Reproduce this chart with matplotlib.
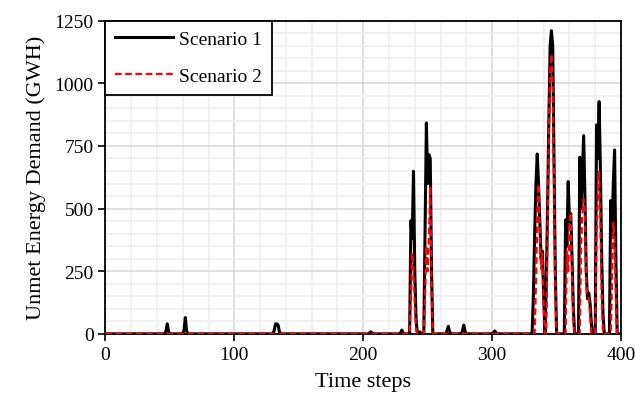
import matplotlib
matplotlib.use('Agg')
import matplotlib.pyplot as plt
import numpy as np
from matplotlib.ticker import MultipleLocator

plt.rc('font', family='Liberation Serif')

# time steps 0..400, zero unless listed
n_steps = 401

s1_t = [47, 48, 49, 61, 62, 63, 131, 132, 133, 134, 135, 205, 206, 207,
        229, 230, 231, 237, 238, 239, 240, 241, 244,
        248, 249, 250, 251, 252, 253, 265, 266, 267, 277, 278, 279,
        301, 302, 303,
        332, 333, 334, 335, 336, 337, 338, 339, 340,
        342, 343, 344, 345, 346, 347, 348, 349,
        357, 358, 359, 360, 361, 362, 363,
        368, 369, 370, 371, 372, 373, 374, 375, 376, 377,
        381, 382, 383, 384, 385, 386,
        392, 393, 394, 395, 396]
s1_v = [12, 40, 10, 15, 65, 12, 15, 40, 40, 35, 8, 4, 8, 3,
        5, 15, 4, 452, 380, 649, 250, 60, 8,
        420, 842, 600, 715, 700, 250, 12, 30, 10, 12, 35, 10,
        5, 12, 4,
        150, 400, 600, 718, 600, 450, 300, 330, 150,
        200, 500, 850, 1150, 1210, 1150, 700, 250,
        455, 350, 608, 450, 480, 300, 100,
        705, 500, 650, 791, 550, 250, 140, 163, 120, 40,
        834, 700, 927, 650, 300, 80,
        532, 400, 600, 734, 300]

s2_t = [237, 238, 239, 240, 241,
        248, 249, 250, 251, 252, 253,
        334, 335, 336, 337, 338, 339, 340,
        343, 344, 345, 346, 347, 348, 349,
        358, 359, 360, 361, 362, 363,
        369, 370, 371, 372, 373, 374, 375, 376,
        381, 382, 383, 384, 385,
        393, 394, 395, 396]
s2_v = [150, 323, 260, 120, 20,
        150, 352, 250, 400, 590, 200,
        200, 450, 598, 420, 260, 319, 120,
        400, 800, 1050, 1117, 1000, 600, 200,
        327, 250, 420, 485, 250, 60,
        350, 480, 538, 500, 200, 150, 140, 80,
        400, 538, 651, 450, 150,
        200, 445, 380, 150]

time = np.arange(n_steps)
scen1 = np.zeros(n_steps)
scen1[s1_t] = s1_v
scen2 = np.zeros(n_steps)
scen2[s2_t] = s2_v

fig = plt.figure(figsize=(6.35, 4.02), dpi=100)
ax = fig.add_axes([0.166, 0.167, 0.812, 0.779])

ax.plot(time, scen1, color='black', lw=2.2, label='Scenario 1', zorder=3)
ax.plot(time, scen2, color='#ff0000', lw=1.6, ls=(0, (3, 1.6)),
        label='Scenario 2', zorder=4)

ax.set_xlim(0, 400)
ax.set_ylim(0, 1250)
ax.xaxis.set_major_locator(MultipleLocator(100))
ax.xaxis.set_minor_locator(MultipleLocator(20))
ax.yaxis.set_major_locator(MultipleLocator(250))
ax.yaxis.set_minor_locator(MultipleLocator(50))

ax.grid(True, 'minor', color='#efefef', ls='-', lw=1.2)
ax.grid(True, 'major', color='#d9d9d9', ls='-', lw=1.2)
ax.set_axisbelow(True)

ax.tick_params(which='major', direction='out', length=5, width=1.2,
               labelsize=14, colors='black')
ax.tick_params(which='minor', length=0)
for sp in ax.spines.values():
    sp.set_color('black')
    sp.set_linewidth(1.3)

ax.set_xlabel('Time steps', fontsize=16, labelpad=7)
ax.set_ylabel('Unmet Energy Demand (GWH)', fontsize=16, labelpad=6)

leg = ax.legend(loc='upper left', fontsize=14, frameon=True, fancybox=False,
                borderaxespad=0, handlelength=3.0, handletextpad=0.3,
                borderpad=0.5, labelspacing=1.0)
leg.get_frame().set_edgecolor('black')
leg.get_frame().set_linewidth(1.3)
leg.get_frame().set_alpha(1)

fig.savefig('out.png', dpi=100)
